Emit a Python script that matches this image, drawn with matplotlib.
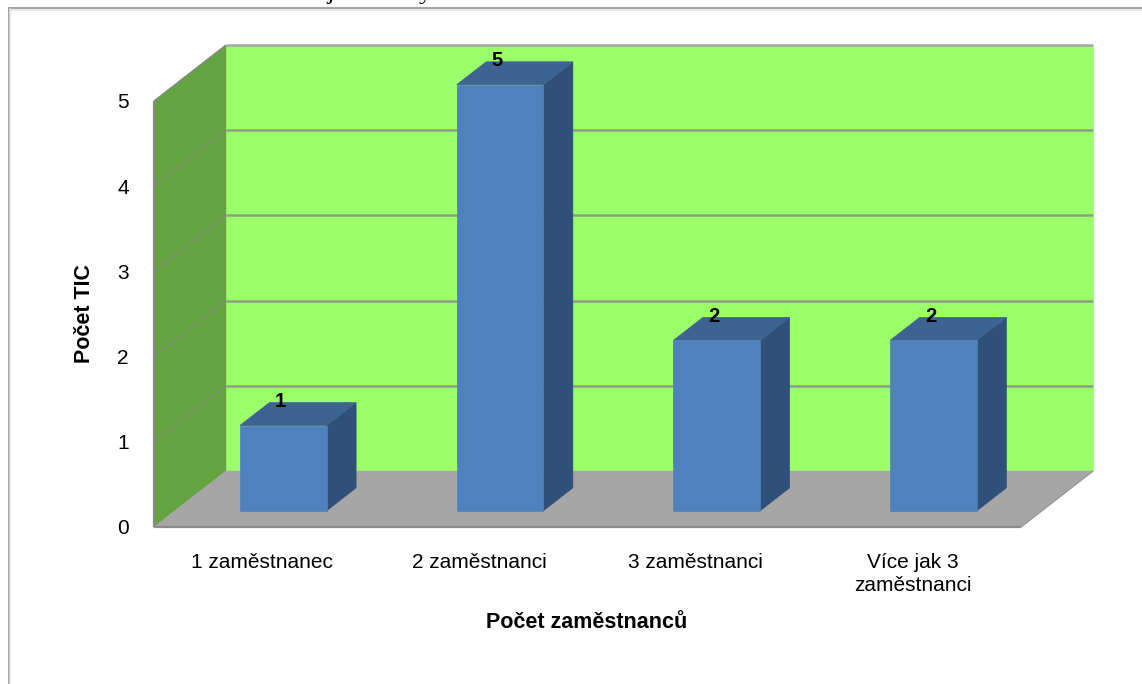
import matplotlib
matplotlib.use('Agg')
import matplotlib.pyplot as plt
from matplotlib.lines import Line2D
from matplotlib.patches import Polygon

plt.rcParams['font.family'] = ['Liberation Sans', 'DejaVu Sans']

categories = ['1 zaměstnanec', '2 zaměstnanci', '3 zaměstnanci', 'Více jak 3\nzaměstnanci']
values = [1, 5, 2, 2]
y_ticks = [0, 1, 2, 3, 4, 5]

W, H = 1142, 684
# oblique projection of the depth axis, in data units
DEPTH_X = 0.332
DEPTH_Y = 0.657
BAR_WIDTH = 0.40
BAR_D0 = 0.29
BAR_D1 = 0.70


def proj(x, v, d=0.0):
    return (x + d * DEPTH_X, v + d * DEPTH_Y)


def face(ax, pts, color, z=1):
    ax.add_patch(Polygon([proj(*p) for p in pts], closed=True, facecolor=color,
                         edgecolor=color, lw=0.5, zorder=z, clip_on=False))


def edge(ax, a, b, color, lw=1.5, z=2):
    pa, pb = proj(*a), proj(*b)
    ax.plot([pa[0], pb[0]], [pa[1], pb[1]], color=color, lw=lw, zorder=z,
            clip_on=False, solid_capstyle='butt')


fig = plt.figure(figsize=(W / 100, H / 100), dpi=100)
ax = fig.add_axes([154 / W, 1 - 527 / H, (1021 - 154) / W, (527 - 101) / H])
ax.set_xlim(-0.5, 3.5)
ax.set_ylim(0, 5)
ax.patch.set_visible(False)
for s in ax.spines.values():
    s.set_visible(False)

x0, x1 = ax.get_xlim()
top = y_ticks[-1]

# walls and floor
face(ax, [(x0, 0, 1), (x1, 0, 1), (x1, top, 1), (x0, top, 1)], '#9BFF69')
face(ax, [(x0, 0, 0), (x0, 0, 1), (x0, top, 1), (x0, top, 0)], '#63A340')
face(ax, [(x0, 0, 0), (x1, 0, 0), (x1, 0, 1), (x0, 0, 1)], '#A6A6A6')

# gridlines
for v in y_ticks[1:]:
    edge(ax, (x0, v, 1), (x1, v, 1), '#8E9E82' if v < top else '#A6A6A6', lw=1.8)
    if v < top:
        edge(ax, (x0, v, 0), (x0, v, 1), '#7F9070', lw=1.0)
edge(ax, (x0, 0, 0), (x1, 0, 0), '#8A8A8A', lw=1.6)
edge(ax, (x1, 0, 0), (x1, 0, 1), '#9A9A9A', lw=1.0)
edge(ax, (x0, 0, 0), (x0, top, 0), '#8A8A8A', lw=1.6)
edge(ax, (x0, top, 0), (x0, top, 1), '#8A8A8A', lw=1.0)

# bars
for i, v in enumerate(values):
    l, r = i - BAR_WIDTH / 2, i + BAR_WIDTH / 2
    face(ax, [(r, 0, BAR_D0), (r, 0, BAR_D1), (r, v, BAR_D1), (r, v, BAR_D0)], '#2F5079', 3)
    face(ax, [(l, v, BAR_D0), (r, v, BAR_D0), (r, v, BAR_D1), (l, v, BAR_D1)], '#3C6391', 3)
    face(ax, [(l, 0, BAR_D0), (r, 0, BAR_D0), (r, v, BAR_D0), (l, v, BAR_D0)], '#4F81BD', 4)
    ax.annotate(str(v), proj(i, v, BAR_D0), xytext=(-3, 24), textcoords='offset pixels',
                ha='center', va='center', fontsize=14.5, fontweight='bold', color='black',
                zorder=6, annotation_clip=False)

ax.set_xticks(range(len(categories)))
ax.set_xticklabels(categories, fontsize=15, linespacing=1.25, color='black')
ax.set_yticks(y_ticks)
ax.tick_params(axis='x', length=0, pad=19)
ax.tick_params(axis='y', length=0, pad=18, labelsize=15)

fig.text(587 / W, 1 - 622 / H, 'Počet zaměstnanců', ha='center', va='center',
         fontsize=15.5, fontweight='bold')
fig.text(85 / W, 1 - 314 / H, 'Počet TIC', ha='center', va='center', rotation=90,
         fontsize=15.5, fontweight='bold')

# document caption, cut off by the top edge of the picture
fig.text(0, 1 + 0.5 / H, 'Graf č. 5: Počet zaměstnanců v jednotlivých TIC', ha='left',
         va='baseline', fontsize=18.5, family='Liberation Serif')

# page frame
for xs, ys, c in [((9, W), (8, 8), '#8C8C8C'), ((9, W), (9.5, 9.5), '#E0E0E0'),
                  ((9, 9), (8, H), '#8C8C8C'), ((10.3, 10.3), (9, H), '#E0E0E0')]:
    fig.add_artist(Line2D([x / W for x in xs], [1 - y / H for y in ys], color=c, lw=1.1))

fig.savefig('out.png', dpi=100)
